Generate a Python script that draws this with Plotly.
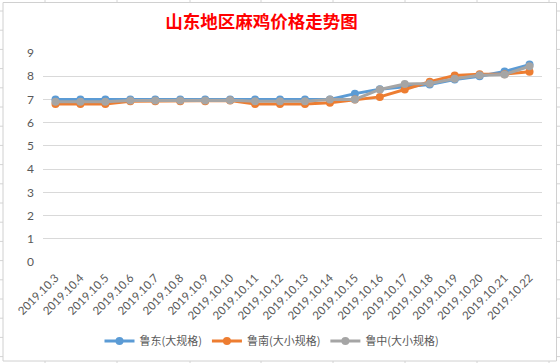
import plotly.graph_objects as go

dates = ["2019.10.3", "2019.10.4", "2019.10.5", "2019.10.6", "2019.10.7", "2019.10.8",
         "2019.10.9", "2019.10.10", "2019.10.11", "2019.10.12", "2019.10.13", "2019.10.14",
         "2019.10.15", "2019.10.16", "2019.10.17", "2019.10.18", "2019.10.19", "2019.10.20",
         "2019.10.21", "2019.10.22"]
ludong = [7.0, 7.0, 7.0, 7.0, 7.0, 7.0, 7.0, 7.0, 7.0, 7.0, 7.0, 7.0,
          7.25, 7.44, 7.55, 7.64, 7.86, 8.0, 8.2, 8.5]
lunan = [6.8, 6.8, 6.8, 6.92, 6.92, 6.92, 6.92, 6.95, 6.8, 6.8, 6.8, 6.86,
         7.0, 7.11, 7.43, 7.76, 8.03, 8.09, 8.09, 8.19]
luzhong = [6.9, 6.9, 6.9, 6.95, 6.95, 6.95, 6.95, 6.96, 6.92, 6.92, 6.92, 7.0,
           7.0, 7.43, 7.66, 7.69, 7.89, 8.04, 8.07, 8.43]
names = ["鲁东(大规格)", "鲁南(大小规格)", "鲁中(大小规格)"]
colors = ["#5B9BD5", "#ED7D31", "#A5A5A5"]
yticks = [0, 1, 2, 3, 4, 5, 6, 7, 8, 9]

W, H = 560, 363
L, R, T, B = 43, 542, 53, 262  # plot area in pixels


def px(x):
    return (x - L) / (R - L)


def py(y):
    return (B - y) / (B - T)


fig = go.Figure()
for vals, name, col in zip([ludong, lunan, luzhong], names, colors):
    fig.add_trace(go.Scatter(
        x=dates, y=vals, name=name, mode="lines+markers",
        line=dict(color=col, width=3),
        marker=dict(color=col, size=8, symbol="circle"),
    ))

shapes = []
grid_col = "#D4D4D4"
# spreadsheet cell lines outside the chart area
for gx in [45, 117, 190, 261, 333, 405, 477, 549]:
    shapes.append(dict(type="line", xref="paper", yref="paper", layer="below",
                       x0=px(gx), x1=px(gx), y0=py(0), y1=py(363),
                       line=dict(color=grid_col, width=1)))
gy = 11
while gy < 363:
    shapes.append(dict(type="line", xref="paper", yref="paper", layer="below",
                       x0=px(0), x1=px(560), y0=py(gy), y1=py(gy),
                       line=dict(color=grid_col, width=1)))
    gy += 19.2
# chart area (white box with border)
shapes.append(dict(type="rect", xref="paper", yref="paper", layer="below",
                   x0=px(3), x1=px(556.5), y0=py(2.5), y1=py(361),
                   fillcolor="white", line=dict(color="#D0D0D0", width=1)))

fig.update_layout(
    width=W, height=H,
    margin=dict(l=L, r=W - R, t=T, b=H - B, pad=0, autoexpand=False),
    paper_bgcolor="#FFFFFF",
    plot_bgcolor="rgba(0,0,0,0)",
    shapes=shapes,
    title=dict(text="<b>山东地区麻鸡价格走势图</b>", x=261.5 / W, xanchor="center",
               y=1 - 22 / H, yanchor="middle",
               font=dict(family="Noto Sans CJK SC", size=17.5, color="#FF0000")),
    xaxis=dict(type="category", range=[-0.5, 19.5], showgrid=False, zeroline=False,
               showline=False, ticks="", tickangle=-45, automargin=False,
               ticklabelstandoff=6,
               tickfont=dict(family="Lato, Liberation Sans", size=11.5, color="#595959")),
    yaxis=dict(range=[0, 9], tickvals=yticks, showgrid=True, gridcolor="#D9D9D9",
               gridwidth=1, zeroline=False, showline=False, ticks="", ticklabelstandoff=8,
               automargin=False,
               tickfont=dict(family="Lato, Liberation Sans", size=12, color="#595959")),
    legend=dict(orientation="h", x=px(272), xanchor="center", y=py(341), yanchor="middle",
                bgcolor="rgba(0,0,0,0)",
                font=dict(family="Noto Sans CJK SC", size=11, color="#595959"),
                itemwidth=30, tracegroupgap=0),
    showlegend=True,
)

fig.write_html("out.html", config={"displayModeBar": False},
               post_script="document.body.style.margin='0';document.body.style.overflow='hidden';")
